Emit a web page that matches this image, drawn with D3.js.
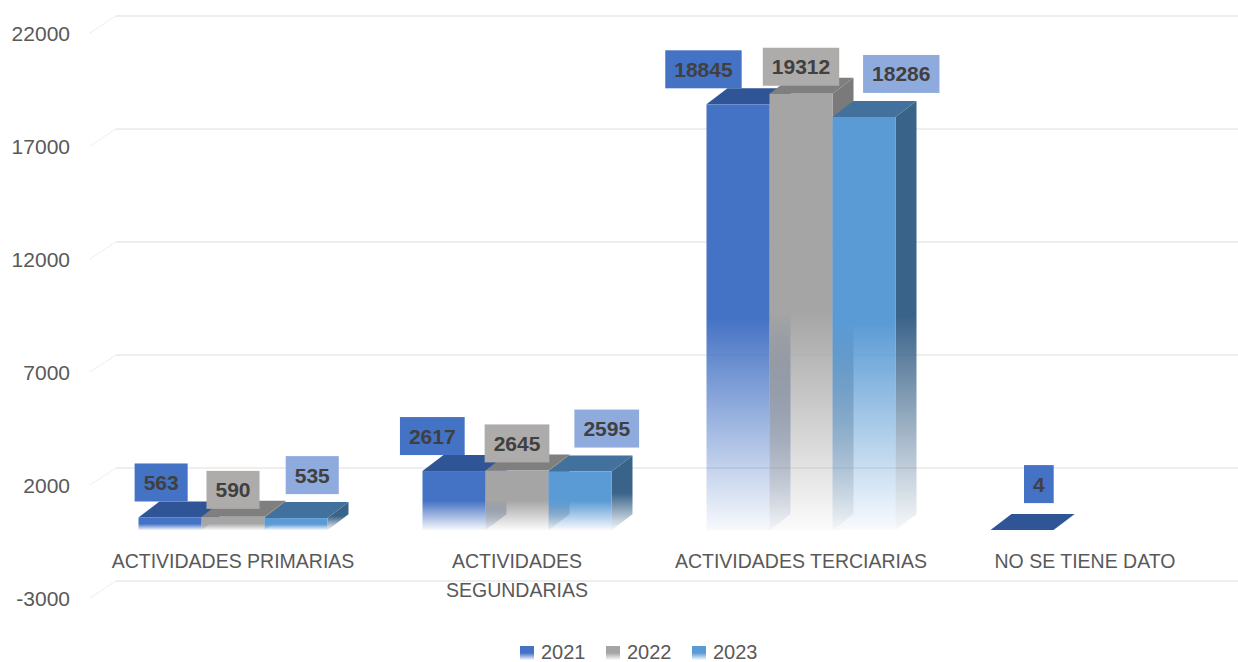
<!DOCTYPE html>
<html><head><meta charset="utf-8">
<script src="https://cdn.jsdelivr.net/npm/d3@7"></script>
<style>body{margin:0;background:#fff}svg{display:block}</style>
</head><body>
<svg id="c" width="1238" height="662"></svg>
<script>
// ---- data ----
const categories = ["ACTIVIDADES PRIMARIAS", "ACTIVIDADES SEGUNDARIAS", "ACTIVIDADES TERCIARIAS", "NO SE TIENE DATO"];
const seriesNames = ["2021", "2022", "2023"];
const values2021 = [563, 2617, 18845, 4];
const values2022 = [590, 2645, 19312, null];
const values2023 = [535, 2595, 18286, null];
const yTicks = [-3000, 2000, 7000, 12000, 17000, 22000];

// ---- styles ----
const frontColors = ["#4472C4", "#A5A5A5", "#5B9BD5"];
const topColors = ["#2F5597", "#7F7F7F", "#41719C"];
const sideColors = ["#2E5190", "#7A7A7A", "#3A6389"];
const labelFills = ["#4472C4", "#AEABAB", "#8FAADC"];
const font = "'Liberation Sans', Arial, sans-serif";

const series = [values2021, values2022, values2023];
const svg = d3.select("#c");

// geometry
const gridDX = 25, gridDY = -17;   // depth of floor/walls
const barDX = 21, barDY = -16;     // depth of bars
const x = d3.scaleBand().domain(categories).range([91, 1227]).paddingInner(0).paddingOuter(0);
const y = d3.scaleLinear().domain([-3000, 22000]).range([598, 33]);
const groupWidth = 189;
const xs = d3.scaleBand().domain(seriesNames).range([0, groupWidth]);

// gradients
const defs = svg.append("defs");
function grad(id, color, endOp) {
  const g = defs.append("linearGradient").attr("id", id)
    .attr("x1", 0).attr("y1", 0).attr("x2", 0).attr("y2", 1);
  g.append("stop").attr("offset", "0").attr("stop-color", color).attr("stop-opacity", 1);
  g.append("stop").attr("offset", "0.5").attr("stop-color", color).attr("stop-opacity", 1);
  g.append("stop").attr("offset", "1").attr("stop-color", color).attr("stop-opacity", endOp);
}
seriesNames.forEach((s, i) => {
  grad("gf" + i, frontColors[i], 0.04);
  grad("gs" + i, sideColors[i], 0.04);
});

// gridlines
const grid = svg.append("g");
yTicks.forEach(t => {
  const yb = y(t) + gridDY;
  grid.append("line").attr("x1", 91 + gridDX).attr("x2", 1238).attr("y1", yb).attr("y2", yb)
    .attr("stroke", "#EEEEEE").attr("stroke-width", 2);
  grid.append("line").attr("x1", 90).attr("y1", y(t)).attr("x2", 91 + gridDX).attr("y2", yb)
    .attr("stroke", "#DADADA").attr("stroke-width", 0.8).attr("stroke-dasharray", "1.5,1");
});

// y tick labels
svg.append("g").selectAll("text").data(yTicks).join("text")
  .attr("x", 70).attr("y", d => y(d) + 7.5)
  .attr("text-anchor", "end").attr("font-family", font).attr("font-size", 21)
  .attr("fill", "#595959").text(d => d);

// bars
const barsG = svg.append("g");
const labelInfo = [];
categories.forEach((c, ci) => {
  const gx = x(c) + (x.bandwidth() - groupWidth) / 2;
  seriesNames.forEach((s, si) => {
    const v = series[si][ci];
    if (v == null) return;
    const x0 = gx + xs(s), x1 = x0 + xs.bandwidth();
    const yt = y(v), y0 = y(0);
    // side face
    barsG.append("path")
      .attr("d", `M${x1},${yt}L${x1 + barDX},${yt + barDY}L${x1 + barDX},${y0 + barDY}L${x1},${y0}Z`)
      .attr("fill", `url(#gs${si})`);
    // top face
    barsG.append("path")
      .attr("d", `M${x0},${yt}L${x1},${yt}L${x1 + barDX},${yt + barDY}L${x0 + barDX},${yt + barDY}Z`)
      .attr("fill", topColors[si]);
    // front face
    if (y0 - yt > 0.5) {
      barsG.append("rect").attr("x", x0).attr("y", yt).attr("width", x1 - x0).attr("height", y0 - yt)
        .attr("fill", `url(#gf${si})`);
    }
    labelInfo.push({v, si, cx: (x0 + x1) / 2, backTop: yt + barDY});
  });
});

// data labels
const lg = svg.append("g");
labelInfo.forEach(d => {
  const g = lg.append("g");
  const t = g.append("text").attr("font-family", font).attr("font-size", 21).attr("font-weight", "bold")
    .attr("fill", "#404040").attr("text-anchor", "middle").text(d.v);
  const w = t.node().getComputedTextLength() + 18;
  const h = 38;
  let cx = d.cx, bottom = d.backTop;
  if (d.si === 0) { cx = d.cx - (w - 45) * 1.1; bottom = d.backTop - (w < 40 ? 11 : 0); }
  if (d.si === 1) { bottom = d.backTop + 8; }
  if (d.si === 2) { cx = d.cx + (w - 35) * 0.9; bottom = d.backTop - 8; }
  g.insert("rect", "text").attr("x", cx - w / 2).attr("y", bottom - h).attr("width", w).attr("height", h)
    .attr("fill", labelFills[d.si]);
  t.attr("x", cx).attr("y", bottom - h / 2 + 7.5);
});

// category labels
const catG = svg.append("g");
categories.forEach(c => {
  const cx = x(c) + x.bandwidth() / 2;
  const t = catG.append("text").attr("font-family", font).attr("font-size", 19.5).attr("fill", "#595959")
    .attr("text-anchor", "middle").attr("x", cx).attr("y", 568).text(c);
  if (t.node().getComputedTextLength() > 270) {
    const words = c.split(" ");
    t.text(null);
    words.forEach((wd, i) => t.append("tspan").attr("x", cx).attr("dy", i === 0 ? 0 : 29).text(wd));
  }
});

// legend
const legX = [520, 606, 692];
const leg = svg.append("g");
seriesNames.forEach((s, i) => {
  leg.append("rect").attr("x", legX[i]).attr("y", 646).attr("width", 14).attr("height", 14)
    .attr("fill", `url(#gf${i})`);
  leg.append("text").attr("x", legX[i] + 21).attr("y", 659).attr("font-family", font).attr("font-size", 20)
    .attr("fill", "#595959").text(s);
});
</script>
</body></html>
